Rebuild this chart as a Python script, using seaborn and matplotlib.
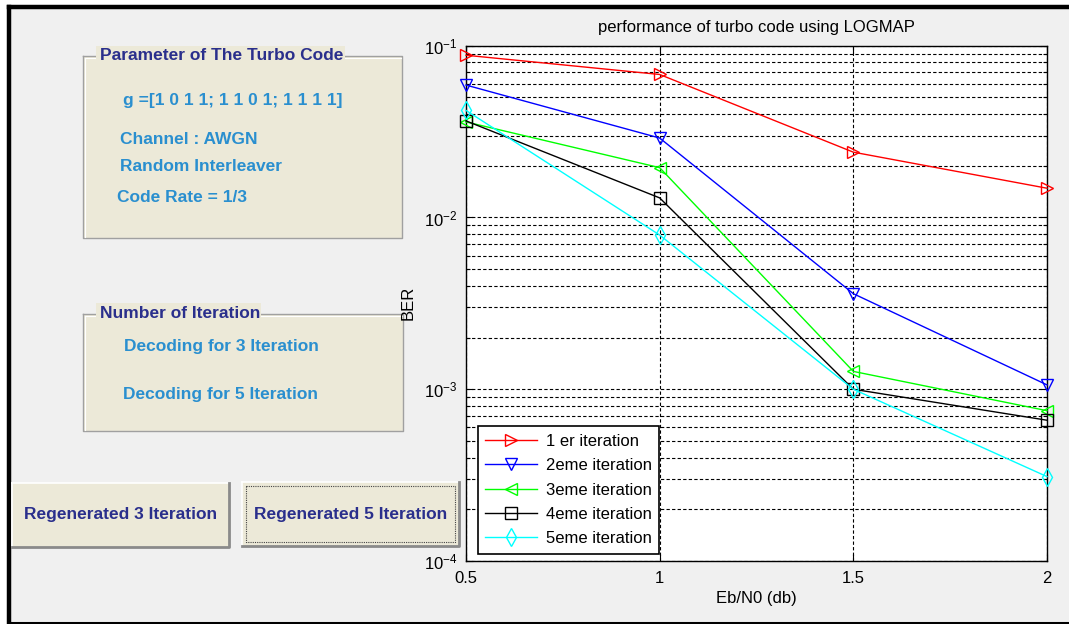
import matplotlib
matplotlib.use("Agg")
import matplotlib.pyplot as plt
from matplotlib.patches import Rectangle
from matplotlib.lines import Line2D
import seaborn as sns
import numpy as np

# ---------------- data ----------------
ebn0 = [0.5, 1.0, 1.5, 2.0]
iter1 = [0.088, 0.068, 0.024, 0.0148]
iter2 = [0.059, 0.029, 0.0036, 0.00106]
iter3 = [0.036, 0.0195, 0.00127, 0.00075]
iter4 = [0.0365, 0.013, 0.001, 0.00066]
iter5 = [0.042, 0.0079, 0.001, 0.00031]
labels = ["1 er iteration", "2eme iteration", "3eme iteration",
          "4eme iteration", "5eme iteration"]
x_ticks = [0.5, 1, 1.5, 2]
x_tick_labels = ["0.5", "1", "1.5", "2"]
title = "performance of turbo code using LOGMAP"

panel1_title = "Parameter of The Turbo Code"
panel1_lines = ["g =[1 0 1 1; 1 1 0 1; 1 1 1 1]", "Channel : AWGN",
                "Random Interleaver", "Code Rate = 1/3"]
panel2_title = "Number of Iteration"
panel2_lines = ["Decoding for 3 Iteration", "Decoding for 5 Iteration"]
buttons = ["Regenerated 3 Iteration", "Regenerated 5 Iteration"]

# ---------------- style ----------------
plt.rcParams['font.family'] = ['Liberation Sans', 'DejaVu Sans']
plt.rcParams['mathtext.default'] = 'regular'

W, H = 1069, 624
fig = plt.figure(figsize=(W / 100, H / 100), dpi=100)
fig.patch.set_facecolor('white')

def fx(x):
    return x / W

def fy(y):
    return 1 - y / H

def rect_px(x0, y0, x1, y1, **kw):
    r = Rectangle((fx(x0), fy(y1)), fx(x1) - fx(x0), fy(y0) - fy(y1),
                  transform=fig.transFigure, **kw)
    fig.add_artist(r)
    return r

def line_px(xs, ys, **kw):
    fig.add_artist(Line2D([fx(v) for v in xs], [fy(v) for v in ys],
                          transform=fig.transFigure, **kw))

# window background + black frame
rect_px(9, 7, W, 623, facecolor='#f0f0f0', edgecolor='none', zorder=0)
line_px([9, W], [7, 7], color='black', lw=3.2, zorder=1)
line_px([9, 9], [7, 624], color='black', lw=3.2, zorder=1)
line_px([9, W], [622.5, 622.5], color='black', lw=2.2, zorder=1)

BEIGE = '#ece9d8'
DARK = '#2a2f8c'
LIGHT = '#2a8fcf'
GUI_FS = 12.5

def panel(x0, y0, x1, y1):
    rect_px(x0, y0, x1, y1, facecolor=BEIGE, edgecolor='none', zorder=1)
    line_px([x0, x1, x1, x0, x0], [y0, y0, y1, y1, y0], color='#a0a0a0', lw=1.0, zorder=2)
    line_px([x0 + 1.5, x1 - 1.5], [y0 + 1.5, y0 + 1.5], color='white', lw=0.8, zorder=2)
    line_px([x0 + 1.5, x0 + 1.5], [y0 + 1.5, y1 - 1.5], color='white', lw=0.8, zorder=2)

# panel 1
panel(83, 56, 402, 238)
rect_px(96, 46, 345, 66, facecolor=BEIGE, edgecolor='none', zorder=3)
fig.text(fx(100), fy(56), panel1_title, color=DARK, fontsize=GUI_FS, fontweight='bold',
         va='center', ha='left', zorder=4)
for (xx, yy), s in zip([(123, 101), (120, 139), (120, 167), (117, 197)], panel1_lines):
    fig.text(fx(xx), fy(yy), s, color=LIGHT, fontsize=GUI_FS, fontweight='bold',
             va='center', ha='left', zorder=4)

# panel 2
panel(83, 314, 403, 431)
rect_px(96, 303, 261, 324, facecolor=BEIGE, edgecolor='none', zorder=3)
fig.text(fx(100), fy(313), panel2_title, color=DARK, fontsize=GUI_FS, fontweight='bold',
         va='center', ha='left', zorder=4)
for (xx, yy), s in zip([(124, 346), (123, 394)], panel2_lines):
    fig.text(fx(xx), fy(yy), s, color=LIGHT, fontsize=GUI_FS, fontweight='bold',
             va='center', ha='left', zorder=4)

# buttons
def button(x0, y0, x1, y1, text, focus=False):
    rect_px(x0, y0, x1, y1, facecolor=BEIGE, edgecolor='none', zorder=1)
    line_px([x0, x1], [y0, y0], color='white', lw=1.2, zorder=2)
    line_px([x0, x0], [y0, y1], color='white', lw=1.2, zorder=2)
    line_px([x0, x1, x1], [y1, y1, y0], color='#8a8a8a', lw=2.0, zorder=2)
    if focus:
        line_px([x0 + 4, x1 - 4, x1 - 4, x0 + 4, x0 + 4],
                [y0 + 4, y0 + 4, y1 - 4, y1 - 4, y0 + 4],
                color='#444444', lw=0.8, ls=(0, (1, 1)), zorder=3)
    fig.text(fx((x0 + x1) / 2), fy((y0 + y1) / 2), text, color=DARK, fontsize=GUI_FS,
             fontweight='bold', ha='center', va='center', zorder=4)

button(12, 483, 229, 547, buttons[0])
button(242, 482, 459, 546, buttons[1], focus=True)

# ---------------- axes ----------------
ax = fig.add_axes([fx(466), fy(561), fx(1047) - fx(466), fy(45.7) - fy(561)])
ax.set_facecolor('white')
ax.set_zorder(5)

series = [iter1, iter2, iter3, iter4, iter5]
colors = ['#ff0000', '#0000ff', '#00ff00', '#000000', '#00ffff']
markers = ['>', 'v', '<', 's', 'd']
for vals, c, m, lab in zip(series, colors, markers, labels):
    sns.lineplot(x=ebn0, y=vals, ax=ax, color=c, marker=m, markersize=9,
                 markerfacecolor='none', markeredgecolor=c, markeredgewidth=1.0,
                 linewidth=1.0, label=lab, zorder=4)
for ln in ax.lines:
    ln.set_markerfacecolor('none')
    ln.set_markeredgecolor(ln.get_color())
    ln.set_clip_on(False)

ax.set_yscale('log')
ax.set_xlim(0.5, 2)
ax.set_ylim(1e-4, 1e-1)
ax.set_xticks(x_ticks)
ax.set_xticklabels(x_tick_labels)
ax.grid(True, which='major', axis='both', color='black', linestyle=(0, (3, 2)), linewidth=0.8)
ax.grid(True, which='minor', axis='y', color='black', linestyle=(0, (3, 2)), linewidth=0.8)
ax.tick_params(which='both', direction='in', top=True, right=True, labelsize=12, colors='black')
ax.tick_params(which='major', length=5, width=0.8)
ax.tick_params(which='minor', length=3, width=0.8)
ax.tick_params(axis='x', which='major', pad=7)
ax.tick_params(axis='y', which='major', pad=6)
for sp in ax.spines.values():
    sp.set_color('black')
    sp.set_linewidth(1.0)

ax.set_title(title, fontsize=12, pad=10)
ax.set_xlabel("Eb/N0 (db)", fontsize=12, labelpad=4)
ax.set_ylabel("BER", fontsize=12, labelpad=6)

leg = ax.legend(loc='lower left', bbox_to_anchor=(0.02, 0.014), fontsize=12,
                frameon=True, fancybox=False, edgecolor='black', framealpha=1,
                handlelength=3.1, labelspacing=0.56, borderpad=0.45, handletextpad=0.55,
                borderaxespad=0)
leg.get_frame().set_linewidth(1.2)
leg.set_zorder(10)

fig.savefig("out.png", dpi=100, facecolor=fig.get_facecolor())
